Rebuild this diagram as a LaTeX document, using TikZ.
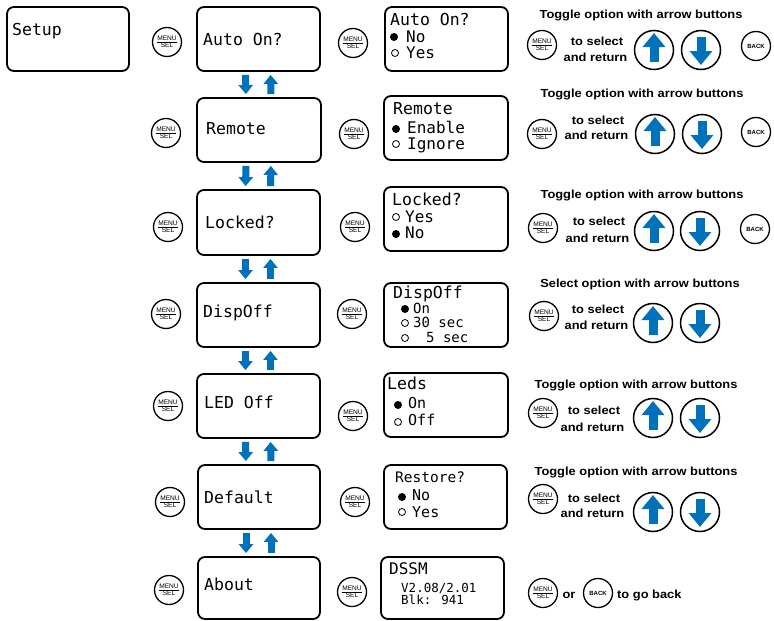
\documentclass[tikz,border=0pt]{standalone}
\usepackage{fontspec}
\setmainfont{Liberation Sans}
\newfontfamily\lcd{DejaVu Sans Mono}
\newfontfamily\labfont[FakeStretch=1.1]{Liberation Sans}
\usetikzlibrary{arrows.meta}
\definecolor{ablue}{RGB}{0,114,188}
\tikzset{
 lcdbox/.style={draw, line width=1.8pt, rounded corners=7pt, inner sep=0pt},
 menubtn/.style={circle, draw, line width=1.3pt, minimum size=29pt, inner sep=0pt, align=center, font=\fontsize{6.6}{7}\selectfont},
 backbtn/.style={circle, draw, line width=1.3pt, minimum size=29pt, inner sep=0pt, font=\bfseries\fontsize{6}{7}\selectfont},
 arrbtn/.style={circle, draw, line width=1.5pt, minimum size=39pt, inner sep=0pt},
 bigarr/.style={ablue, line width=9pt, -{Triangle[width=22pt,length=14pt]}},
 smarr/.style={ablue, line width=7pt, -{Triangle[width=14pt,length=9pt]}, shorten <=3pt, shorten >=3pt},
 lcdt/.style={inner sep=0pt, anchor=base west, font=\lcd\fontsize{#1}{#1}\selectfont},
 lcdt/.default=16.5,
 labt/.style={inner sep=0pt, anchor=base, font=\labfont\bfseries\fontsize{11.7}{13}\selectfont},
 bulf/.style={circle, fill, minimum size=8pt, inner sep=0pt},
 bulo/.style={circle, draw, line width=0.8pt, minimum size=7pt, inner sep=0pt},
}
\newcommand\lcdrect[5]{\node[lcdbox, minimum width={(#4-#2)*1pt}, minimum height={(#5-#3)*1pt}] (#1) at ({(#2+#4)/2},{(#3+#5)/2}) {};}
\begin{document}
\begin{tikzpicture}[x=1pt,y=-1pt]
\useasboundingbox (0,0) rectangle (774,621);
% Setup
\lcdrect{setup}{7}{7}{129}{71}
\node[lcdt] (setupt) at (12,35) {Setup};
% menu boxes
\lcdrect{m1}{197}{7}{320}{71}
\lcdrect{m2}{197}{98}{321}{162}
\lcdrect{m3}{197}{190}{320}{255}
\lcdrect{m4}{197}{283}{320}{347}
\lcdrect{m5}{197}{374}{320}{438}
\lcdrect{m6}{198}{465}{320}{529}
\lcdrect{m7}{198}{557}{320}{619}
\node[lcdt] (m1t) at (203,45) {Auto On?};
\node[lcdt] (m2t) at (206,134) {Remote};
\node[lcdt] (m3t) at (205,228) {Locked?};
\node[lcdt] (m4t) at (203,317) {DispOff};
\node[lcdt] (m5t) at (204,408) {LED Off};
\node[lcdt] (m6t) at (204,503) {Default};
\node[lcdt] (m7t) at (204,590) {About};
% navigation arrows
\foreach \a/\b in {m1/m2,m2/m3,m3/m4,m4/m5,m5/m6,m6/m7}{
  \draw[smarr] ([xshift=-13pt]\a.south) -- ([xshift=-13pt]\b.north);
  \draw[smarr] ([xshift=12pt]\b.north) -- ([xshift=12pt]\a.south);
}
% column 1 buttons
\node[menubtn] (c1) at (167,42) {\underline{MENU}\\SEL};
\node[menubtn] (c2) at (166,133) {\underline{MENU}\\SEL};
\node[menubtn] (c3) at (168,227) {\underline{MENU}\\SEL};
\node[menubtn] (c4) at (166,314) {\underline{MENU}\\SEL};
\node[menubtn] (c5) at (168,406) {\underline{MENU}\\SEL};
\node[menubtn] (c6) at (170,502) {\underline{MENU}\\SEL};
\node[menubtn] (c7) at (169,590) {\underline{MENU}\\SEL};
% column 2 buttons
\node[menubtn] (e1) at (353,43) {\underline{MENU}\\SEL};
\node[menubtn] (e2) at (354,134) {\underline{MENU}\\SEL};
\node[menubtn] (e3) at (355,227) {\underline{MENU}\\SEL};
\node[menubtn] (e4) at (352,314) {\underline{MENU}\\SEL};
\node[menubtn] (e5) at (353,416) {\underline{MENU}\\SEL};
\node[menubtn] (e6) at (355,502) {\underline{MENU}\\SEL};
\node[menubtn] (e7) at (352,592) {\underline{MENU}\\SEL};
% option boxes
\lcdrect{o1}{385}{7}{508}{71}
\lcdrect{o2}{384}{96}{508}{160}
\lcdrect{o3}{384}{187}{508}{251}
\lcdrect{o4}{384}{283}{508}{347}
\lcdrect{o5}{384}{373}{508}{437}
\lcdrect{o6}{384}{465}{507}{529}
\lcdrect{o7}{381}{557}{504}{619}
% option 1
\node[lcdt] (o1t) at (390,25) {Auto On?};
\node[bulf] (o1a) at (394,37) {};
\node[lcdt=16] (o1at) at (406,42) {No};
\node[bulo] (o1b) at (395,53) {};
\node[lcdt=16] (o1bt) at (406,58) {Yes};
% option 2
\node[lcdt] (o2t) at (393,114) {Remote};
\node[bulf] (o2a) at (396,129) {};
\node[lcdt=16] (o2at) at (407,133) {Enable};
\node[bulo] (o2b) at (396,144) {};
\node[lcdt=16] (o2bt) at (407,149) {Ignore};
% option 3
\node[lcdt] (o3t) at (392,205) {Locked?};
\node[bulo] (o3a) at (396,217) {};
\node[lcdt=16] (o3at) at (405,222) {Yes};
\node[bulf] (o3b) at (396,234) {};
\node[lcdt=16] (o3bt) at (405,238) {No};
% option 4
\node[lcdt] (o4t) at (393,298) {DispOff};
\node[bulf] (o4a) at (405,309) {};
\node[lcdt=14] (o4at) at (413,313) {On};
\node[bulo] (o4b) at (405,323) {};
\node[lcdt=14] (o4bt) at (413,327) {30 sec};
\node[bulo] (o4c) at (405,338) {};
\node[lcdt=14] (o4ct) at (426,342) {5 sec};
% option 5
\node[lcdt] (o5t) at (387,389) {Leds};
\node[bulf] (o5a) at (398,405) {};
\node[lcdt=15] (o5at) at (408,408) {On};
\node[bulo] (o5b) at (398,422) {};
\node[lcdt=15] (o5bt) at (408,425) {Off};
% option 6
\node[lcdt=14.5] (o6t) at (395,482) {Restore?};
\node[bulf] (o6a) at (402,497) {};
\node[lcdt=15] (o6at) at (412,500) {No};
\node[bulo] (o6b) at (402,512) {};
\node[lcdt=15] (o6bt) at (412,517) {Yes};
% option 7
\node[lcdt=16] (o7t) at (389,574) {DSSM};
\node[lcdt=12.5] (o7a) at (401,592) {V2.08/2.01};
\node[lcdt=12.5] (o7b) at (401,604) {Blk: 941};
% right column
\foreach \i/\ty/\tx/\title/\sx/\sy/\lx/\ly/\ry/\ux/\uy/\dx/\dy in {
 1/18/641/Toggle/542/45/597/45/61/654/50/701/50,
 2/97/642/Toggle/542/134/598/124/139/655/134/702/134,
 3/198/642/Toggle/543/228/599/225/242/654/231/700/231,
 4/287/640/Select/544/316/598/313/329/653/323/700/323,
 5/388/636/Toggle/543/413/594/414/431/653/418/700/418,
 6/475/636/Toggle/543/499/594/502/517/653/512/700/512}{
 \node[labt] (t\i) at (\tx,\ty) {\title{} option with arrow buttons};
 \node[menubtn] (s\i) at (\sx,\sy) {\underline{MENU}\\SEL};
 \node[labt] (ts\i) at (\lx,\ly) {to select};
 \node[labt] (tr\i) at (\lx-1.5,\ry) {and return};
 \node[arrbtn] (u\i) at (\ux,\uy) {};
 \node[arrbtn] (d\i) at (\dx,\dy) {};
 \draw[bigarr] ([yshift=-12pt]u\i.center) -- ([yshift=17pt]u\i.center);
 \draw[bigarr] ([yshift=13pt]d\i.center) -- ([yshift=-15pt]d\i.center);
}
\node[backbtn] (k1) at (756,46) {BACK};
\node[backbtn] (k2) at (756,132) {BACK};
\node[backbtn] (k3) at (755,229) {BACK};
% last row
\node[menubtn] (s7) at (543,593) {\underline{MENU}\\SEL};
\node[labt] (or7) at (569,598) {or};
\node[backbtn] (k7) at (598,593) {BACK};
\node[labt, anchor=base west] (gb7) at (617,598) {to go back};
\end{tikzpicture}
\end{document}
